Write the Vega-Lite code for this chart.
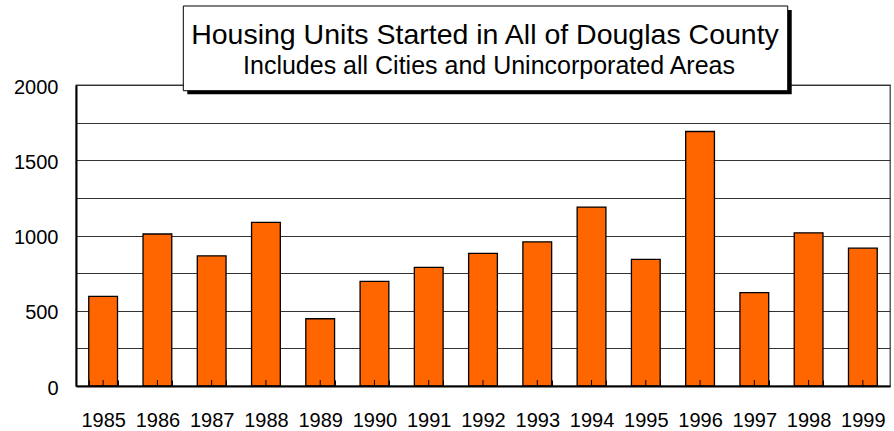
{
  "$schema": "https://vega.github.io/schema/vega-lite/v6.json",
  "width": 814,
  "height": 301,
  "autosize": {"type": "none"},
  "padding": {"left": 76, "top": 85, "right": 4, "bottom": 45},
  "background": "white",
  "config": {
    "view": {"stroke": "#444", "strokeWidth": 1.3},
    "font": "Liberation Sans"
  },
  "data": {
    "values": [
      {"year": "1985", "units": 595},
      {"year": "1986", "units": 1010},
      {"year": "1987", "units": 865},
      {"year": "1988", "units": 1087},
      {"year": "1989", "units": 447},
      {"year": "1990", "units": 695},
      {"year": "1991", "units": 788},
      {"year": "1992", "units": 881},
      {"year": "1993", "units": 958},
      {"year": "1994", "units": 1189},
      {"year": "1995", "units": 841},
      {"year": "1996", "units": 1691},
      {"year": "1997", "units": 620},
      {"year": "1998", "units": 1018},
      {"year": "1999", "units": 916}
    ]
  },
  "layer": [
    {
      "mark": {"type": "bar", "fill": "#FF6600", "stroke": "#000000", "strokeWidth": 1.3},
      "encoding": {
        "x": {
          "field": "year",
          "type": "ordinal",
          "scale": {"paddingInner": 0.47, "paddingOuter": 0.235},
          "axis": {
            "title": null,
            "labelAngle": 0,
            "labelFontSize": 20,
            "labelColor": "#000000",
            "labelFont": "Liberation Sans",
            "labelBaseline": "alphabetic",
            "labelPadding": 46,
            "tickBand": "extent",
            "tickSize": -6,
            "tickColor": "#000000",
            "tickWidth": 1,
            "domainColor": "#000000",
            "domainWidth": 2,
            "zindex": 1
          }
        },
        "y": {
          "field": "units",
          "type": "quantitative",
          "scale": {"domain": [0, 2000], "nice": false},
          "axis": {
            "title": null,
            "values": [0, 250, 500, 750, 1000, 1250, 1500, 1750, 2000],
            "tickCount": 20,
            "format": "d",
            "labelExpr": "datum.value % 500 === 0 ? datum.label : ''",
            "labelOverlap": false,
            "labelFontSize": 20,
            "labelColor": "#000000",
            "labelFont": "Liberation Sans",
            "labelPadding": 18,
            "labelOffset": 2,
            "ticks": false,
            "tickSize": 0,
            "grid": true,
            "gridColor": "#333333",
            "gridWidth": 1,
            "gridOpacity": 1,
            "domainColor": "#000000",
            "domainWidth": 2
          }
        }
      }
    },
    {
      "mark": {"type": "rule", "color": "#000000", "strokeWidth": 1},
      "encoding": {
        "x": {"field": "year", "type": "ordinal"},
        "y": {"datum": 0},
        "y2": {"datum": 40}
      }
    },
    {
      "data": {"values": [{}]},
      "mark": {"type": "rect", "fill": "#000000"},
      "encoding": {
        "x": {"datum": "1987", "type": "ordinal", "bandPosition": -0.347},
        "x2": {"datum": "1998", "bandPosition": -0.087},
        "y": {"datum": 2498},
        "y2": {"datum": 1938}
      }
    },
    {
      "data": {"values": [{}]},
      "mark": {"type": "rect", "fill": "#ffffff", "stroke": "#000000", "strokeWidth": 1},
      "encoding": {
        "x": {"datum": "1987", "type": "ordinal", "bandPosition": -0.486},
        "x2": {"datum": "1998", "bandPosition": -0.226},
        "y": {"datum": 2525},
        "y2": {"datum": 1962}
      }
    },
    {
      "data": {"values": [{}]},
      "mark": {
        "type": "text",
        "text": "Housing Units Started in All of Douglas County",
        "font": "Liberation Sans",
        "fontSize": 28.5,
        "baseline": "alphabetic",
        "align": "center",
        "dx": 2,
        "color": "#000000"
      },
      "encoding": {"y": {"datum": 2270}}
    },
    {
      "data": {"values": [{}]},
      "mark": {
        "type": "text",
        "text": "Includes all Cities and Unincorporated Areas",
        "font": "Liberation Sans",
        "fontSize": 25,
        "baseline": "alphabetic",
        "align": "center",
        "dx": 6,
        "color": "#000000"
      },
      "encoding": {"y": {"datum": 2073}}
    }
  ]
}
